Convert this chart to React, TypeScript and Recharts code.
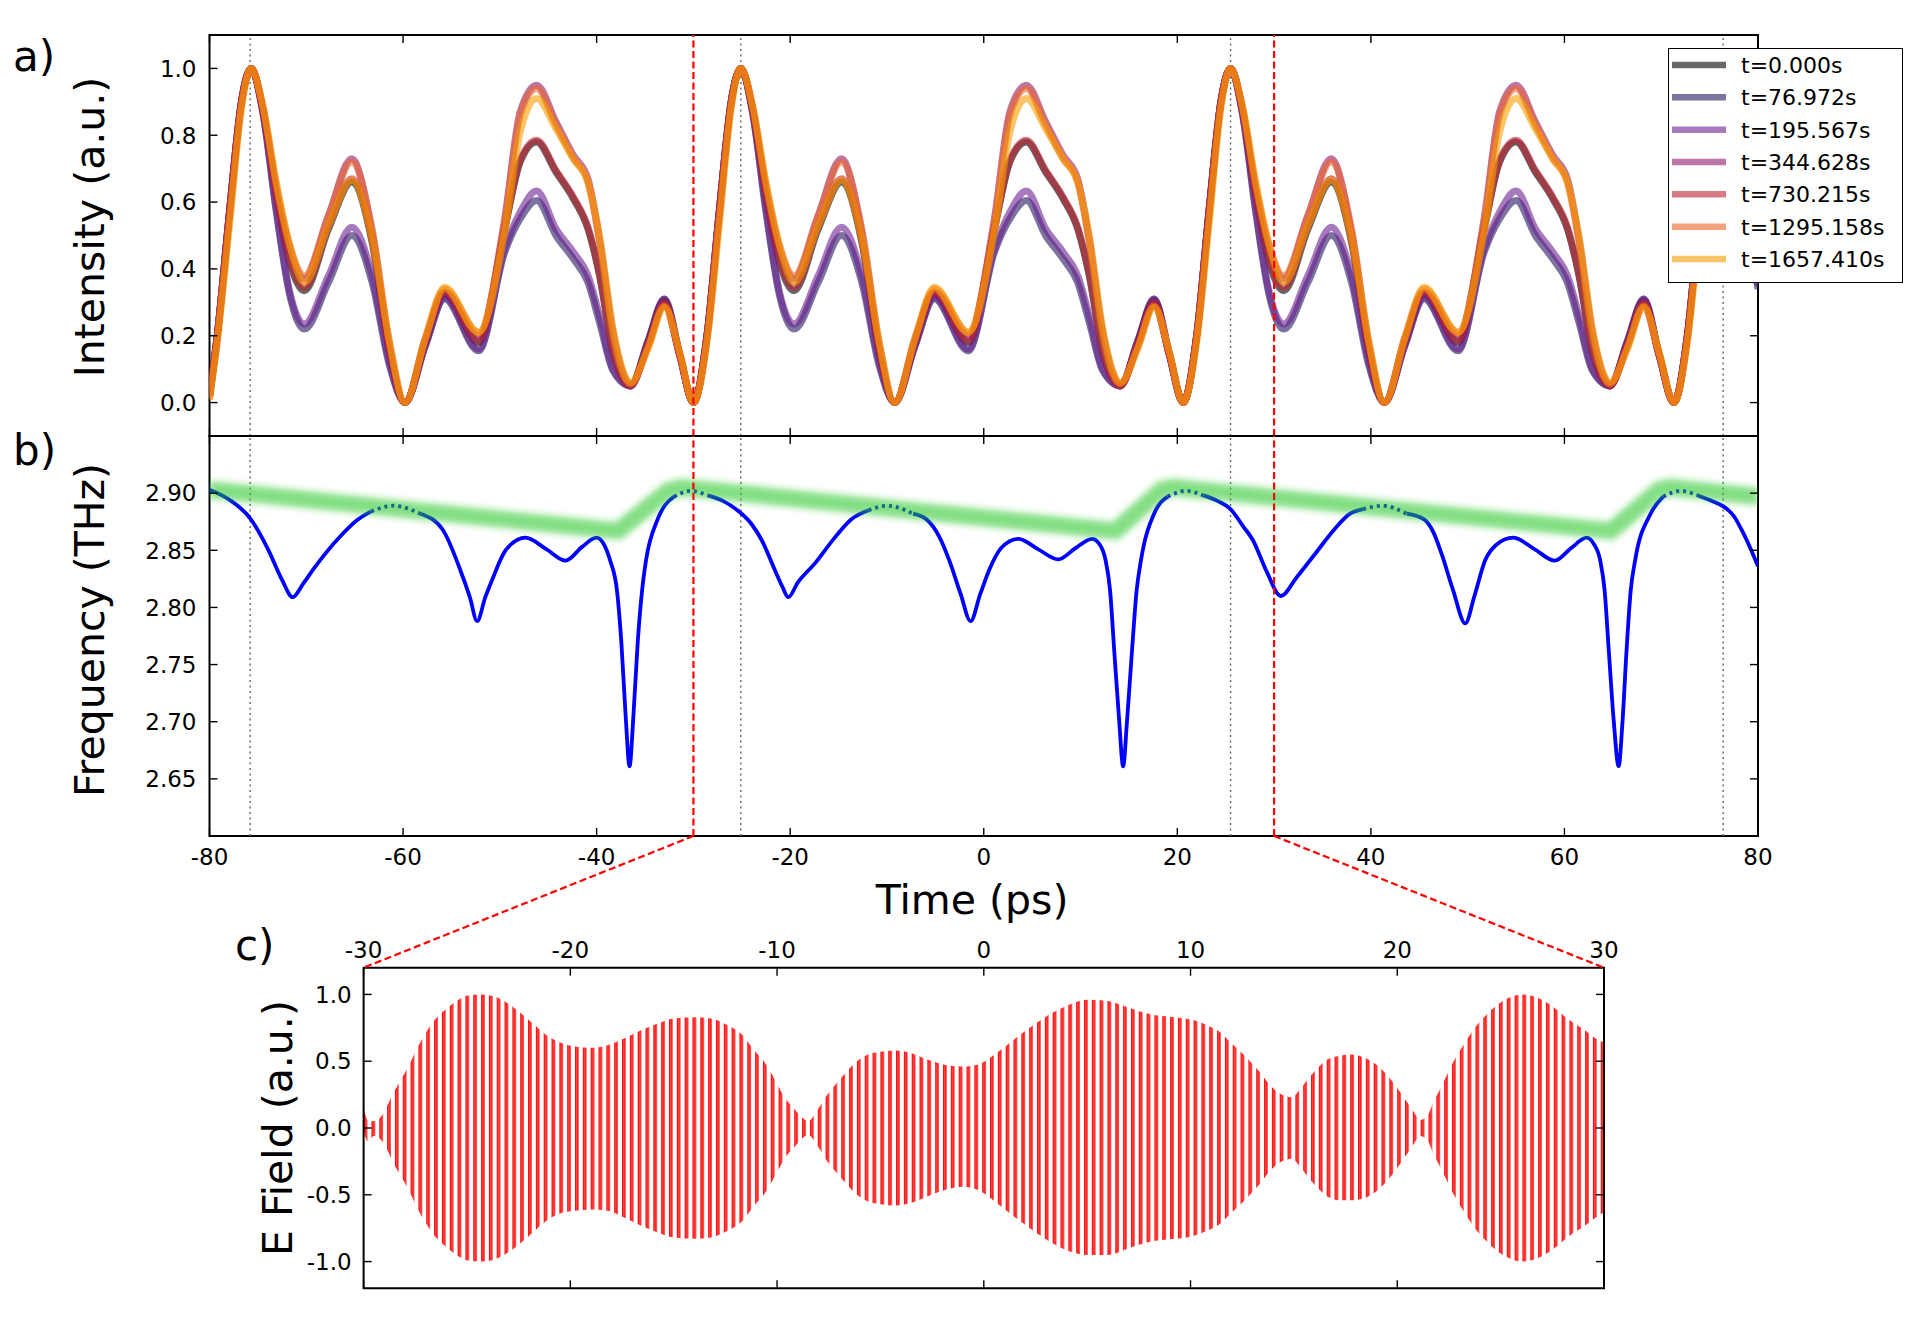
import React from 'react';
import {
  LineChart,
  Line,
  XAxis,
  YAxis,
  ReferenceLine,
  ReferenceArea,
  Legend,
  AreaChart,
  Area,
} from 'recharts';

const FONT = "'DejaVu Sans', 'Bitstream Vera Sans', sans-serif";

// ---------------- tick labels / categories ----------------
const timeTicks = [-80, -60, -40, -20, 0, 20, 40, 60, 80];
const intensityTicks = [0, 0.2, 0.4, 0.6, 0.8, 1.0];
const freqTicks = [2.65, 2.7, 2.75, 2.8, 2.85, 2.9];
const zoomTimeTicks = [-30, -20, -10, 0, 10, 20, 30];
const fieldTicks = [-1, -0.5, 0, 0.5, 1];

const pulseMarks = [-75.8, -25.1, 25.5, 76.4];
const zoomWindow = [-30, 30];

const seriesLabels = [
  't=0.000s',
  't=76.972s',
  't=195.567s',
  't=344.628s',
  't=730.215s',
  't=1295.158s',
  't=1657.410s',
];
const seriesColors = ['#000000', '#241560', '#6a2290', '#8f1c72', '#c02134', '#ed6625', '#f89d00'];

// ---------------- panel a: intensity ----------------
const intensityTime = [
  -80, -79.2, -77.9, -76.7, -75.7, -74.5, -73.1, -71.7, -70.2, -67.7, -65.3, -63.2, -61.4, -59.8, -57.7, -55.7,
  -52.2, -49.5, -47.9, -46.2, -44.2, -42.4, -40.9, -39.7, -38.3, -36.5, -34.7, -33.0, -31.4,
  -30.0, -28.6, -27.3, -26.1, -25.1, -23.9, -22.5, -21.1, -19.6, -17.1, -14.7, -12.6, -10.8, -9.2, -7.1, -5.1,
  -1.6, 1.1, 2.7, 4.4, 6.4, 8.2, 9.7, 10.9, 12.3, 14.1, 15.9, 17.6, 19.2,
  20.6, 22.0, 23.3, 24.5, 25.5, 26.7, 28.1, 29.5, 31.0, 33.5, 35.9, 38.0, 39.8, 41.4, 43.5, 45.5,
  49.0, 51.7, 53.3, 55.0, 57.0, 58.8, 60.3, 61.5, 62.9, 64.7, 66.5, 68.2, 69.8,
  71.3, 72.7, 74.0, 75.2, 76.2, 77.4, 78.8, 80.0,
];

const intensity0 = [
  0.02,
  0.2, 0.58, 0.9, 1.0, 0.88, 0.62, 0.42, 0.335, 0.52, 0.66, 0.48, 0.15, 0, 0.18, 0.325, 0.18, 0.52, 0.72, 0.78, 0.69, 0.61, 0.52, 0.38, 0.15, 0.05, 0.18, 0.305, 0.14,
  0, 0.2, 0.58, 0.9, 1.0, 0.88, 0.62, 0.42, 0.335, 0.52, 0.66, 0.48, 0.15, 0, 0.18, 0.325, 0.18, 0.52, 0.72, 0.78, 0.69, 0.61, 0.52, 0.38, 0.15, 0.05, 0.18, 0.305, 0.14,
  0, 0.2, 0.58, 0.9, 1.0, 0.88, 0.62, 0.42, 0.335, 0.52, 0.66, 0.48, 0.15, 0, 0.18, 0.325, 0.18, 0.52, 0.72, 0.78, 0.69, 0.61, 0.52, 0.38, 0.15, 0.05, 0.18, 0.305, 0.14,
  0, 0.2, 0.58, 0.9, 1.0, 0.88, 0.62,
  0.44,
];
const intensity1 = [
  0.02,
  0.2, 0.58, 0.9, 1.0, 0.87, 0.57, 0.32, 0.22, 0.36, 0.5, 0.36, 0.11, 0, 0.17, 0.31, 0.155, 0.45, 0.55, 0.605, 0.5, 0.43, 0.36, 0.24, 0.095, 0.05, 0.185, 0.31, 0.145,
  0, 0.2, 0.58, 0.9, 1.0, 0.87, 0.57, 0.32, 0.22, 0.36, 0.5, 0.36, 0.11, 0, 0.17, 0.31, 0.155, 0.45, 0.55, 0.605, 0.5, 0.43, 0.36, 0.24, 0.095, 0.05, 0.185, 0.31, 0.145,
  0, 0.2, 0.58, 0.9, 1.0, 0.87, 0.57, 0.32, 0.22, 0.36, 0.5, 0.36, 0.11, 0, 0.17, 0.31, 0.155, 0.45, 0.55, 0.605, 0.5, 0.43, 0.36, 0.24, 0.095, 0.05, 0.185, 0.31, 0.145,
  0, 0.2, 0.58, 0.9, 1.0, 0.87, 0.57,
  0.34,
];
const intensity2 = [
  0.02,
  0.2, 0.58, 0.9, 1.0, 0.87, 0.58, 0.33, 0.235, 0.38, 0.525, 0.38, 0.12, 0, 0.17, 0.315, 0.16, 0.46, 0.57, 0.633, 0.52, 0.45, 0.38, 0.26, 0.1, 0.05, 0.18, 0.31, 0.14,
  0, 0.2, 0.58, 0.9, 1.0, 0.87, 0.58, 0.33, 0.235, 0.38, 0.525, 0.38, 0.12, 0, 0.17, 0.315, 0.16, 0.46, 0.57, 0.633, 0.52, 0.45, 0.38, 0.26, 0.1, 0.05, 0.18, 0.31, 0.14,
  0, 0.2, 0.58, 0.9, 1.0, 0.87, 0.58, 0.33, 0.235, 0.38, 0.525, 0.38, 0.12, 0, 0.17, 0.315, 0.16, 0.46, 0.57, 0.633, 0.52, 0.45, 0.38, 0.26, 0.1, 0.05, 0.18, 0.31, 0.14,
  0, 0.2, 0.58, 0.9, 1.0, 0.87, 0.58,
  0.35,
];
const intensity3 = [
  0.02,
  0.2, 0.58, 0.9, 1.0, 0.88, 0.64, 0.46, 0.37, 0.56, 0.73, 0.51, 0.17, 0, 0.19, 0.33, 0.2, 0.55, 0.87, 0.95, 0.84, 0.74, 0.67, 0.49, 0.21, 0.055, 0.17, 0.29, 0.14,
  0, 0.2, 0.58, 0.9, 1.0, 0.88, 0.64, 0.46, 0.37, 0.56, 0.73, 0.51, 0.17, 0, 0.19, 0.33, 0.2, 0.55, 0.87, 0.95, 0.84, 0.74, 0.67, 0.49, 0.21, 0.055, 0.17, 0.29, 0.14,
  0, 0.2, 0.58, 0.9, 1.0, 0.88, 0.64, 0.46, 0.37, 0.56, 0.73, 0.51, 0.17, 0, 0.19, 0.33, 0.2, 0.55, 0.87, 0.95, 0.84, 0.74, 0.67, 0.49, 0.21, 0.055, 0.17, 0.29, 0.14,
  0, 0.2, 0.58, 0.9, 1.0, 0.88, 0.64,
  0.48,
];
const intensity4 = [
  0.02,
  0.2, 0.58, 0.9, 1.0, 0.88, 0.62, 0.43, 0.345, 0.53, 0.67, 0.49, 0.155, 0, 0.185, 0.33, 0.185, 0.52, 0.725, 0.785, 0.695, 0.615, 0.525, 0.385, 0.155, 0.05, 0.175, 0.3, 0.14,
  0, 0.2, 0.58, 0.9, 1.0, 0.88, 0.62, 0.43, 0.345, 0.53, 0.67, 0.49, 0.155, 0, 0.185, 0.33, 0.185, 0.52, 0.725, 0.785, 0.695, 0.615, 0.525, 0.385, 0.155, 0.05, 0.175, 0.3, 0.14,
  0, 0.2, 0.58, 0.9, 1.0, 0.88, 0.62, 0.43, 0.345, 0.53, 0.67, 0.49, 0.155, 0, 0.185, 0.33, 0.185, 0.52, 0.725, 0.785, 0.695, 0.615, 0.525, 0.385, 0.155, 0.05, 0.175, 0.3, 0.14,
  0, 0.2, 0.58, 0.9, 1.0, 0.88, 0.62,
  0.45,
];
const intensity5 = [
  0.01,
  0.19, 0.56, 0.89, 1.0, 0.89, 0.65, 0.47, 0.38, 0.56, 0.72, 0.52, 0.18, 0, 0.195, 0.34, 0.21, 0.54, 0.86, 0.94, 0.83, 0.73, 0.66, 0.48, 0.2, 0.055, 0.165, 0.29, 0.145,
  0, 0.19, 0.56, 0.89, 1.0, 0.89, 0.65, 0.47, 0.38, 0.56, 0.72, 0.52, 0.18, 0, 0.195, 0.34, 0.21, 0.54, 0.86, 0.94, 0.83, 0.73, 0.66, 0.48, 0.2, 0.055, 0.165, 0.29, 0.145,
  0, 0.19, 0.56, 0.89, 1.0, 0.89, 0.65, 0.47, 0.38, 0.56, 0.72, 0.52, 0.18, 0, 0.195, 0.34, 0.21, 0.54, 0.86, 0.94, 0.83, 0.73, 0.66, 0.48, 0.2, 0.055, 0.165, 0.29, 0.145,
  0, 0.19, 0.56, 0.89, 1.0, 0.89, 0.65,
  0.49,
];
const intensity6 = [
  0.01,
  0.18, 0.54, 0.88, 1.0, 0.89, 0.66, 0.47, 0.36, 0.53, 0.665, 0.49, 0.18, 0, 0.19, 0.345, 0.21, 0.51, 0.81, 0.91, 0.82, 0.73, 0.66, 0.5, 0.22, 0.06, 0.16, 0.285, 0.15,
  0, 0.18, 0.54, 0.88, 1.0, 0.89, 0.66, 0.47, 0.36, 0.53, 0.665, 0.49, 0.18, 0, 0.19, 0.345, 0.21, 0.51, 0.81, 0.91, 0.82, 0.73, 0.66, 0.5, 0.22, 0.06, 0.16, 0.285, 0.15,
  0, 0.18, 0.54, 0.88, 1.0, 0.89, 0.66, 0.47, 0.36, 0.53, 0.665, 0.49, 0.18, 0, 0.19, 0.345, 0.21, 0.51, 0.81, 0.91, 0.82, 0.73, 0.66, 0.5, 0.22, 0.06, 0.16, 0.285, 0.15,
  0, 0.18, 0.54, 0.88, 1.0, 0.89, 0.66,
  0.49,
];

// ---------------- panel b: instantaneous frequency ----------------
const freqTime = [
  -80, -77.9, -75.8, -73.9, -72.5, -71.4, -70.3, -69.3, -66.5, -64.8, -63.3, -61.0, -58.2, -55.9, -54.1, -53.1,
  -52.35, -51.5, -50.8, -49.4, -47.35, -45.2, -43.2, -41.5, -40.0, -39.3, -38.6, -37.9, -37.45, -37.0, -36.6,
  -36.2, -35.75, -35.3, -34.9, -33.7, -32.0, -30.3, -28.5,
  -26.9, -25.3, -24.0, -22.95, -21.6, -20.8, -20.2, -19.2, -17.4, -15.5, -13.7, -11.9, -10.0, -7.3, -5.9, -4.6,
  -3.6, -2.4, -1.36, -0.35, 0.57, 1.8, 3.57, 5.6, 7.7, 9.5, 11.2, 11.9, 12.57, 13.05, 13.5, 14.0, 14.4, 14.8,
  15.3, 15.8, 16.26, 17.6, 19.0, 20.9, 22.7,
  24.2, 25.5, 26.8, 27.8, 29.2, 30.7, 32.3, 34.25, 36.2, 37.85, 39.2, 41.2, 43.7, 45.5, 46.5, 47.3, 48.5, 49.76,
  50.7, 51.8, 53.0, 54.7, 56.9, 59.0, 60.7, 62.3, 63.0, 63.7, 64.15, 64.6, 65.1, 65.6, 66.0, 66.4, 66.85, 67.3,
  68.9, 70.2, 72.0, 73.8, 75.3, 76.5, 77.5, 78.3, 79.2, 80.0,
];
const freqValue = [
  2.903, 2.894, 2.878, 2.85, 2.824, 2.809, 2.821, 2.833, 2.862, 2.876, 2.884, 2.889, 2.882, 2.868, 2.833, 2.809,
  2.788, 2.809, 2.824, 2.85, 2.861, 2.851, 2.841, 2.853, 2.861, 2.856, 2.841, 2.815, 2.77, 2.705, 2.661,
  2.705, 2.77, 2.815, 2.841, 2.877, 2.897, 2.902, 2.898,
  2.893, 2.884, 2.873, 2.859, 2.833, 2.818, 2.809, 2.822, 2.839, 2.86, 2.877, 2.885, 2.889, 2.882, 2.877, 2.862,
  2.842, 2.812, 2.788, 2.812, 2.833, 2.852, 2.86, 2.851, 2.842, 2.852, 2.86, 2.856, 2.842, 2.815, 2.76, 2.7, 2.661, 2.7,
  2.76, 2.815, 2.842, 2.882, 2.897, 2.902, 2.898,
  2.893, 2.886, 2.871, 2.859, 2.832, 2.81, 2.826, 2.847, 2.868, 2.882, 2.886, 2.889, 2.882, 2.877, 2.865, 2.847, 2.815, 2.786,
  2.81, 2.841, 2.855, 2.861, 2.851, 2.841, 2.852, 2.861, 2.856, 2.841, 2.815, 2.76, 2.7, 2.661, 2.7, 2.76, 2.815, 2.841,
  2.882, 2.897, 2.902, 2.898, 2.893, 2.888, 2.88, 2.868, 2.852, 2.836,
];
// time spans where the frequency trace is drawn dotted
const dottedSpans = [
  [-63.3, -58.2],
  [-32.0, -28.5],
  [-11.9, -7.3],
  [19.0, 22.7],
  [39.2, 43.7],
  [70.2, 73.8],
];
// broad green guide band (saw-tooth)
const bandTime = [-80, -37.8, -32.6, -31.2, 13.6, 18.4, 19.6, 64.8, 69.8, 71.0, 80.0];
const bandValue = [2.903, 2.867, 2.902, 2.905, 2.867, 2.903, 2.905, 2.867, 2.903, 2.905, 2.897];

// ---------------- panel c: E field envelope ----------------
const fieldTime = [
  -30, -29.8, -29.5, -29.0, -28.6, -28.2, -27.8, -27.4, -27.0, -26.5,
  -26.0, -25.5, -25.0, -24.3, -23.6, -23.0, -22.4, -21.8, -21.2, -20.5,
  -19.8, -19.0, -18.2, -17.4, -16.6, -15.8, -15.0, -14.0, -13.2, -12.4,
  -11.7, -11.1, -10.6, -10.1, -9.6, -9.2, -8.8, -8.5, -8.1, -7.7,
  -7.2, -6.7, -6.2, -5.6, -5.0, -4.3, -3.5, -2.7, -1.8, -1.0,
  -0.2, 0.7, 1.6, 2.5, 3.3, 4.1, 5.0, 6.0, 7.0, 8.1,
  9.2, 10.1, 10.8, 11.4, 12.0, 12.5, 13.0, 13.4, 13.8, 14.2,
  14.6, 14.9, 15.3, 15.7, 16.1, 16.6, 17.2, 17.8, 18.5, 19.1,
  19.6, 20.0, 20.4, 20.8, 21.1, 21.4, 21.8, 22.2, 22.6, 23.0,
  23.4, 23.8, 24.2, 24.6, 25.0, 25.5, 26.0, 26.5, 27.0, 27.6,
  28.3, 29.0, 29.6, 30.0,
];
const fieldUpper = [
  0.15, 0.06, 0.05, 0.12, 0.25, 0.36, 0.47, 0.6, 0.71, 0.82,
  0.89, 0.95, 0.99, 1.0, 0.98, 0.93, 0.86, 0.78, 0.7, 0.64,
  0.61, 0.6, 0.62, 0.67, 0.73, 0.78, 0.82, 0.83, 0.82, 0.77,
  0.7, 0.58, 0.49, 0.36, 0.22, 0.15, 0.08, 0.05, 0.12, 0.22,
  0.32, 0.41, 0.49, 0.55, 0.57, 0.58, 0.56, 0.51, 0.47, 0.46,
  0.48, 0.57, 0.68, 0.78, 0.86, 0.92, 0.96, 0.95, 0.9, 0.85,
  0.83, 0.81, 0.77, 0.72, 0.63, 0.56, 0.48, 0.41, 0.33, 0.27,
  0.24, 0.23, 0.29, 0.37, 0.44, 0.51, 0.54, 0.55, 0.52, 0.46,
  0.38, 0.3, 0.21, 0.12, 0.06, 0.08, 0.21, 0.33, 0.46, 0.57,
  0.67, 0.76, 0.83, 0.89, 0.94, 0.98, 1.0, 0.99, 0.96, 0.9,
  0.81, 0.74, 0.67, 0.64,
];
const fieldLower = [
  -0.02, -0.1, -0.06, -0.12, -0.25, -0.36, -0.47, -0.6, -0.71, -0.82,
  -0.89, -0.95, -0.99, -1.0, -0.98, -0.93, -0.86, -0.78, -0.7, -0.64,
  -0.62, -0.61, -0.62, -0.67, -0.73, -0.78, -0.82, -0.83, -0.82, -0.77,
  -0.7, -0.58, -0.49, -0.36, -0.22, -0.15, -0.08, -0.05, -0.12, -0.22,
  -0.32, -0.41, -0.49, -0.55, -0.57, -0.58, -0.56, -0.51, -0.46, -0.44,
  -0.47, -0.57, -0.68, -0.78, -0.86, -0.92, -0.95, -0.95, -0.9, -0.85,
  -0.83, -0.81, -0.77, -0.72, -0.63, -0.56, -0.48, -0.41, -0.33, -0.27,
  -0.24, -0.23, -0.29, -0.37, -0.44, -0.51, -0.54, -0.54, -0.52, -0.46,
  -0.38, -0.3, -0.21, -0.12, -0.06, -0.08, -0.21, -0.33, -0.46, -0.57,
  -0.67, -0.76, -0.83, -0.89, -0.94, -0.98, -1.0, -0.99, -0.96, -0.9,
  -0.81, -0.74, -0.67, -0.63,
];

// ---------------- layout ----------------
const FIG_W = 1932;
const FIG_H = 1331;
const AX_L = 209.5;
const AX_R = 1758;
const A_TOP = 35;
const A_BOT = 436;
const B_BOT = 836;
const C_L = 363.6;
const C_R = 1604;
const C_TOP = 967.7;
const C_BOT = 1288.3;
const YW = 100;
const XH = 40;
const TICK = 8;
const CARRIER_PX = 7.83;

const xMainPx = (v: number) => AX_L + ((v + 80) / 160) * (AX_R - AX_L);

const tickText = { fontFamily: FONT, fontSize: 23, fill: '#000' } as const;

function makeXTick(top: number, bottom: number, labelY: number | null) {
  return (props: any) => {
    const x = props.x;
    const v = props.payload ? props.payload.value : 0;
    return (
      <g>
        <line x1={x} x2={x} y1={bottom} y2={bottom - TICK} stroke="#000" strokeWidth={1.4} />
        <line x1={x} x2={x} y1={top} y2={top + TICK} stroke="#000" strokeWidth={1.4} />
        {labelY !== null ? (
          <text x={x} y={labelY} textAnchor="middle" {...tickText}>
            {String(v)}
          </text>
        ) : null}
      </g>
    );
  };
}

function makeYTick(left: number, right: number, labelX: number, fmt: (v: number) => string) {
  return (props: any) => {
    const y = props.y;
    const v = props.payload ? props.payload.value : 0;
    return (
      <g>
        <line x1={left} x2={left + TICK} y1={y} y2={y} stroke="#000" strokeWidth={1.4} />
        <line x1={right - TICK} x2={right} y1={y} y2={y} stroke="#000" strokeWidth={1.4} />
        <text x={labelX} y={y} dy="0.36em" textAnchor="end" {...tickText}>
          {fmt(v)}
        </text>
      </g>
    );
  };
}

const LegendBox = (props: any) => {
  const items = (props.payload || [])
    .slice()
    .sort((a: any, b: any) => seriesLabels.indexOf(a.value) - seriesLabels.indexOf(b.value));
  return (
    <div
      style={{
        width: 235,
        height: 235,
        border: '1.6px solid #000',
        background: '#fff',
        boxSizing: 'border-box',
      }}
    >
      <svg width={232} height={232} style={{ display: 'block' }}>
        {items.map((p: any, i: number) => {
          const y = 16 + i * 32.33;
          return (
            <g key={p.value}>
              <line x1={3} x2={57} y1={y} y2={y} stroke={p.color} strokeOpacity={0.6} strokeWidth={6.5} />
              <text x={72} y={y + 8} fontFamily={FONT} fontSize={22} fill="#000">
                {p.value}
              </text>
            </g>
          );
        })}
      </svg>
    </div>
  );
};

const inSpan = (t: number, strict: boolean) =>
  dottedSpans.some(([a, b]) => (strict ? t > a && t < b : t >= a && t <= b));

export default function App() {
  const intensitySeries = [intensity0, intensity1, intensity2, intensity3, intensity4, intensity5, intensity6];
  const intensityRows = intensityTime.map((t, i) => {
    const row: any = { t };
    intensitySeries.forEach((s, k) => {
      row['s' + k] = s[i];
    });
    return row;
  });
  const solidRows = freqTime.map((t, i) => ({ t, f: inSpan(t, true) ? null : freqValue[i] }));
  const dottedRows = freqTime.map((t, i) => ({ t, f: inSpan(t, false) ? freqValue[i] : null }));
  const bandRows = bandTime.map((t, i) => ({ t, f: bandValue[i] }));
  const fieldRows = fieldTime.map((t, i) => ({ t, band: [fieldLower[i], fieldUpper[i]] }));

  const abs = { position: 'absolute' as const, left: 0, top: 0 };

  return (
    <div style={{ position: 'absolute', left: 0, top: 0, width: FIG_W, height: FIG_H, background: '#fff', overflow: 'hidden' }}>
      {/* panel a */}
      <div style={abs}>
        <LineChart
          width={FIG_W}
          height={FIG_H}
          data={intensityRows}
          margin={{ top: A_TOP, right: FIG_W - AX_R, bottom: FIG_H - A_BOT - XH, left: AX_L - YW }}
        >
          <XAxis
            dataKey="t"
            type="number"
            domain={[-80, 80]}
            ticks={timeTicks}
            interval={0}
            height={XH}
            axisLine={false}
            tickLine={false}
            allowDataOverflow
            tick={makeXTick(A_TOP, A_BOT, null)}
          />
          <YAxis
            type="number"
            domain={[-0.1, 1.1]}
            ticks={intensityTicks}
            interval={0}
            width={YW}
            axisLine={false}
            tickLine={false}
            allowDataOverflow
            tick={makeYTick(AX_L, AX_R, AX_L - 13, (v) => v.toFixed(1))}
          />
          <ReferenceArea x1={-80} x2={80} y1={-0.1} y2={1.1} fill="none" fillOpacity={0} stroke="#000" strokeWidth={2} />
          {pulseMarks.map((m) => (
            <ReferenceLine key={'ga' + m} x={m} stroke="#666" strokeWidth={1.4} strokeDasharray="2 3.5" />
          ))}
          {seriesLabels.map((name, k) => (
            <Line
              key={name}
              dataKey={'s' + k}
              name={name}
              type="monotone"
              stroke={seriesColors[k]}
              strokeOpacity={0.6}
              strokeWidth={7}
              dot={false}
              activeDot={false}
              isAnimationActive={false}
            />
          ))}
          {zoomWindow.map((m) => (
            <ReferenceLine key={'ra' + m} x={m} stroke="#ff0000" strokeWidth={2.2} strokeDasharray="7 3.5" />
          ))}
          <Legend
            layout="vertical"
            align="center"
            verticalAlign="middle"
            wrapperStyle={{ position: 'absolute', left: 1668, top: 48, width: 235, height: 235 }}
            content={(p: any) => <LegendBox payload={p.payload} />}
          />
        </LineChart>
      </div>

      {/* panel b */}
      <div style={abs}>
        <LineChart
          width={FIG_W}
          height={FIG_H}
          margin={{ top: A_BOT, right: FIG_W - AX_R, bottom: FIG_H - B_BOT - XH, left: AX_L - YW }}
        >
          <defs>
            <filter id="bandBlur" filterUnits="userSpaceOnUse" x={0} y={0} width={FIG_W} height={FIG_H}>
              <feGaussianBlur stdDeviation={3.2} />
            </filter>
          </defs>
          <XAxis
            dataKey="t"
            type="number"
            domain={[-80, 80]}
            ticks={timeTicks}
            interval={0}
            height={XH}
            axisLine={false}
            tickLine={false}
            allowDataOverflow
            tick={makeXTick(A_BOT, B_BOT, 865)}
          />
          <YAxis
            type="number"
            domain={[2.6, 2.95]}
            ticks={freqTicks}
            interval={0}
            width={YW}
            axisLine={false}
            tickLine={false}
            allowDataOverflow
            tick={makeYTick(AX_L, AX_R, AX_L - 13, (v) => v.toFixed(2))}
          />
          <ReferenceArea x1={-80} x2={80} y1={2.6} y2={2.95} fill="none" fillOpacity={0} stroke="#000" strokeWidth={2} />
          {pulseMarks.map((m) => (
            <ReferenceLine key={'gb' + m} x={m} stroke="#666" strokeWidth={1.4} strokeDasharray="2 3.5" />
          ))}
          <Line
            data={solidRows}
            dataKey="f"
            type="monotone"
            stroke="#0000ff"
            strokeWidth={3.8}
            dot={false}
            activeDot={false}
            connectNulls={false}
            isAnimationActive={false}
          />
          <Line
            data={dottedRows}
            dataKey="f"
            type="monotone"
            stroke="#0000ff"
            strokeWidth={3.8}
            strokeDasharray="3 4"
            dot={false}
            activeDot={false}
            connectNulls={false}
            isAnimationActive={false}
          />
          <Line
            data={bandRows}
            dataKey="f"
            type="linear"
            stroke="#1fc41f"
            strokeOpacity={0.55}
            strokeWidth={17}
            filter="url(#bandBlur)"
            dot={false}
            activeDot={false}
            isAnimationActive={false}
          />
          {zoomWindow.map((m) => (
            <ReferenceLine key={'rb' + m} x={m} stroke="#ff0000" strokeWidth={2.2} strokeDasharray="7 3.5" />
          ))}
        </LineChart>
      </div>

      {/* panel c */}
      <div style={abs}>
        <AreaChart
          width={FIG_W}
          height={FIG_H}
          data={fieldRows}
          margin={{ top: C_TOP - XH, right: FIG_W - C_R, bottom: FIG_H - C_BOT, left: C_L - YW }}
        >
          <defs>
            <pattern id="carrier" patternUnits="userSpaceOnUse" x={C_L} y={0} width={CARRIER_PX} height={20}>
              <rect x={0} y={0} width={3.6} height={20} fill="#ff0a0a" />
              <rect x={1.4} y={0} width={0.8} height={20} fill="#ff6a6a" />
            </pattern>
          </defs>
          <XAxis
            dataKey="t"
            type="number"
            orientation="top"
            domain={[-30, 30]}
            ticks={zoomTimeTicks}
            interval={0}
            height={XH}
            axisLine={false}
            tickLine={false}
            allowDataOverflow
            tick={makeXTick(C_TOP, C_BOT, 958)}
          />
          <YAxis
            type="number"
            domain={[-1.2, 1.2]}
            ticks={fieldTicks}
            interval={0}
            width={YW}
            axisLine={false}
            tickLine={false}
            allowDataOverflow
            tick={makeYTick(C_L, C_R, C_L - 12, (v) => v.toFixed(1))}
          />
          <Area
            dataKey="band"
            type="monotone"
            stroke="none"
            fill="url(#carrier)"
            fillOpacity={1}
            dot={false}
            activeDot={false}
            isAnimationActive={false}
          />
          <ReferenceArea x1={-30} x2={30} y1={-1.2} y2={1.2} fill="none" fillOpacity={0} stroke="#000" strokeWidth={2} />
        </AreaChart>
      </div>

      {/* titles, panel letters and zoom connectors */}
      <svg width={FIG_W} height={FIG_H} style={{ position: 'absolute', left: 0, top: 0, pointerEvents: 'none' }}>
        <g fontFamily={FONT} fill="#000">
          <text x={13} y={71} fontSize={42}>a)</text>
          <text x={13} y={465} fontSize={42}>b)</text>
          <text x={235} y={960} fontSize={42}>c)</text>
          <text transform="translate(104,227) rotate(-90)" textAnchor="middle" fontSize={41}>
            Intensity (a.u.)
          </text>
          <text transform="translate(104,630) rotate(-90)" textAnchor="middle" fontSize={41}>
            Frequency (THz)
          </text>
          <text transform="translate(291.5,1128) rotate(-90)" textAnchor="middle" fontSize={41}>
            E Field (a.u.)
          </text>
          <text x={972} y={914} textAnchor="middle" fontSize={41}>
            Time (ps)
          </text>
        </g>
        <line x1={xMainPx(zoomWindow[0])} y1={B_BOT} x2={C_L} y2={C_TOP} stroke="#ff0000" strokeWidth={2.2} strokeDasharray="7 3.5" />
        <line x1={xMainPx(zoomWindow[1])} y1={B_BOT} x2={C_R} y2={C_TOP} stroke="#ff0000" strokeWidth={2.2} strokeDasharray="7 3.5" />
      </svg>
    </div>
  );
}
